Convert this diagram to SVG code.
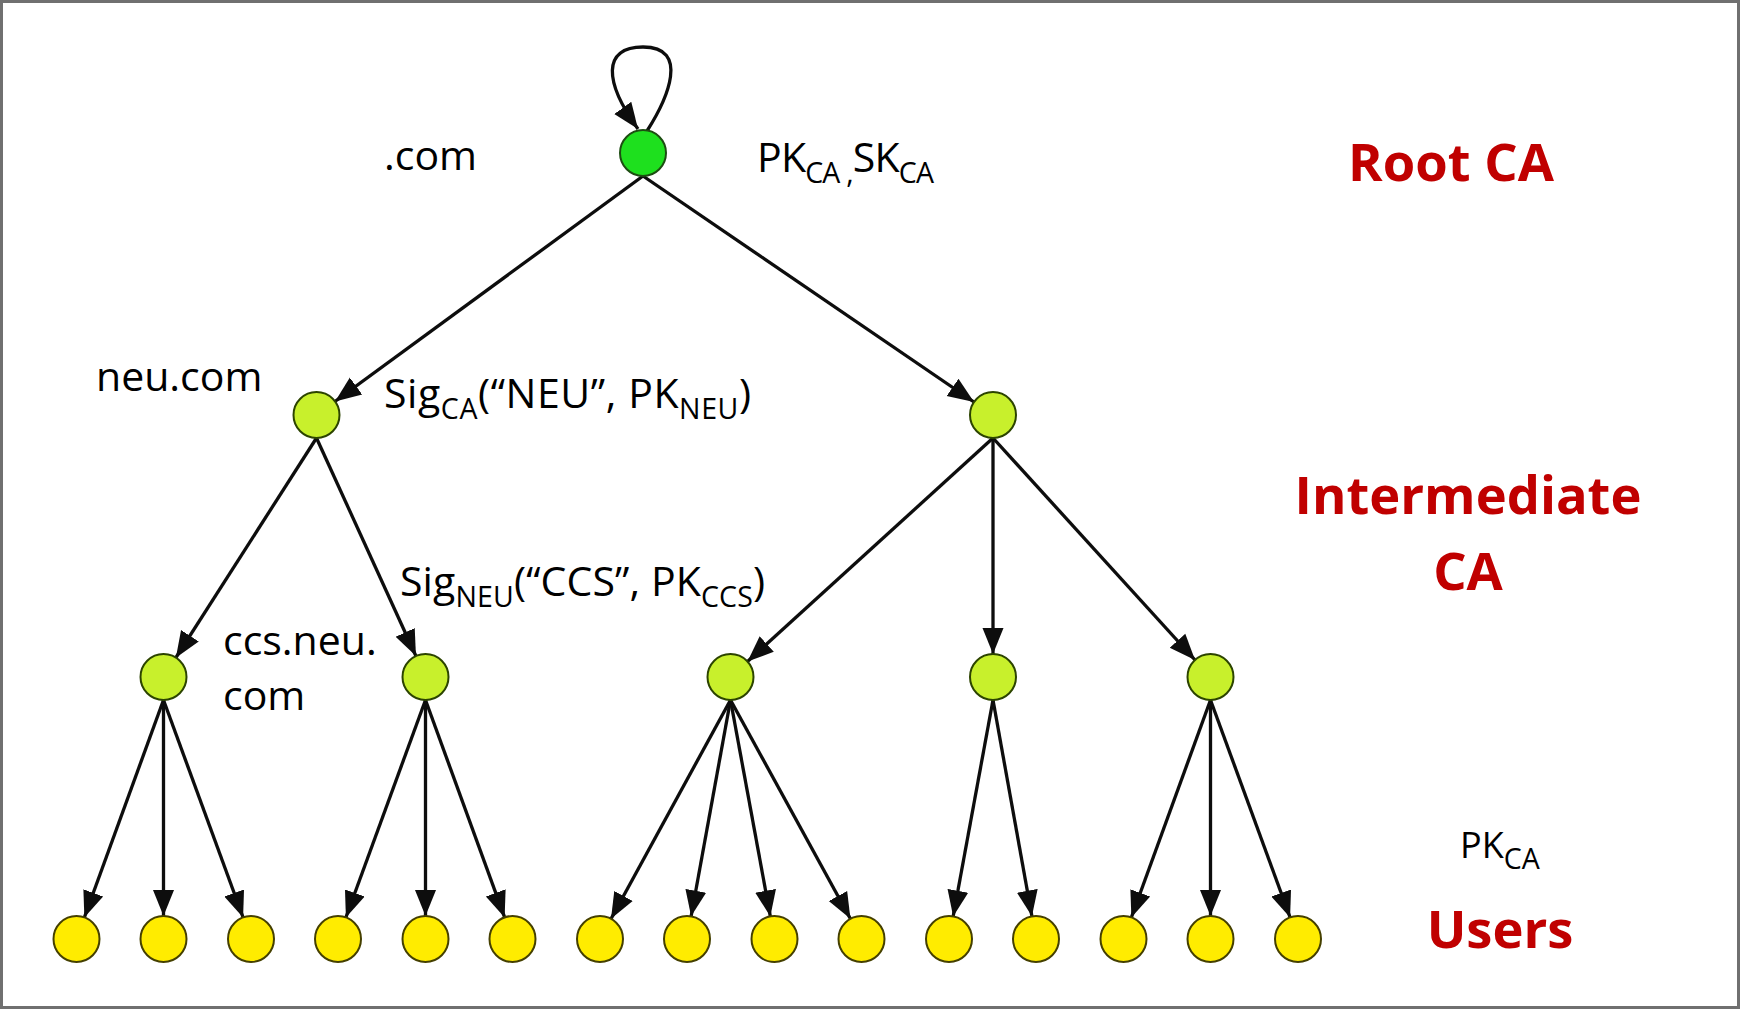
<svg xmlns="http://www.w3.org/2000/svg" width="1740" height="1009" viewBox="0 0 1740 1009">
  <style>
    .lbl { font-family: "Open Sans", "Liberation Sans", sans-serif; font-size: 41px; fill: #000; }
    .sub { font-size: 28.5px; }
    .tier { font-family: "Open Sans", "Liberation Sans", sans-serif; font-size: 52.5px; font-weight: bold; fill: #c00000; text-anchor: middle; }
    .edge { fill: none; stroke: #0d0d0d; stroke-width: 3.3; marker-end: url(#arr); }
    .root { fill: #1ee01e; stroke: #1d4d12; stroke-width: 2; }
    .ca { fill: #c8f02c; stroke: #2c4400; stroke-width: 2; }
    .user { fill: #ffec00; stroke: #454000; stroke-width: 2; }
  </style>
  <defs>
    <!-- arrowhead whose tip sits on the rim of a r=23 node when the path ends at the node centre -->
    <marker id="arr" viewBox="0 -12 28 24" markerWidth="28" markerHeight="24" refX="49" refY="0" orient="auto" markerUnits="userSpaceOnUse">
      <path d="M0,-10.5 L26,0 L0,10.5 z" fill="#0d0d0d"/>
    </marker>
    <!-- arrowhead with tip at the path end (self loop) -->
    <marker id="arrTip" viewBox="0 -12 28 24" markerWidth="28" markerHeight="24" refX="26" refY="0" orient="auto" markerUnits="userSpaceOnUse">
      <path d="M0,-10.5 L26,0 L0,10.5 z" fill="#0d0d0d"/>
    </marker>
  </defs>

  <rect x="0" y="0" width="1740" height="1009" fill="#fff"/>
  <rect x="1.5" y="1.5" width="1737" height="1006" fill="none" stroke="#707070" stroke-width="3"/>

  <!-- connectors -->
  <g id="connectors">
    <path d="M647,131 C668,98 690,47 643,47 C602,47 604,82 638,129" fill="none" stroke="#0d0d0d" stroke-width="3.3" marker-end="url(#arrTip)"/>
    <path class="edge" d="M643,176 L316.5,415"/>
    <path class="edge" d="M643,176 L993,415"/>
    <path class="edge" d="M316.5,438 L163.5,677"/>
    <path class="edge" d="M316.5,438 L425.5,677"/>
    <path class="edge" d="M993,438 L730.5,677"/>
    <path class="edge" d="M993,438 L993,677"/>
    <path class="edge" d="M993,438 L1210.5,677"/>
    <path class="edge" d="M163.5,700 L76.5,939"/>
    <path class="edge" d="M163.5,700 L163.5,939"/>
    <path class="edge" d="M163.5,700 L251,939"/>
    <path class="edge" d="M425.5,700 L338,939"/>
    <path class="edge" d="M425.5,700 L425.5,939"/>
    <path class="edge" d="M425.5,700 L512.5,939"/>
    <path class="edge" d="M730.5,700 L600,939"/>
    <path class="edge" d="M730.5,700 L687,939"/>
    <path class="edge" d="M730.5,700 L774.5,939"/>
    <path class="edge" d="M730.5,700 L861.5,939"/>
    <path class="edge" d="M993,700 L949,939"/>
    <path class="edge" d="M993,700 L1036,939"/>
    <path class="edge" d="M1210.5,700 L1123.5,939"/>
    <path class="edge" d="M1210.5,700 L1210.5,939"/>
    <path class="edge" d="M1210.5,700 L1298,939"/>
  </g>

  <!-- root CA -->
  <g id="root-ca"><circle class="root" cx="643" cy="153" r="23"/></g>

  <!-- intermediate CAs -->
  <g id="ca-neu"><circle class="ca" cx="316.5" cy="415" r="23"/></g>
  <g id="ca-b"><circle class="ca" cx="993" cy="415" r="23"/></g>
  <g id="ca-c1"><circle class="ca" cx="163.5" cy="677" r="23"/></g>
  <g id="ca-ccs"><circle class="ca" cx="425.5" cy="677" r="23"/></g>
  <g id="ca-c3"><circle class="ca" cx="730.5" cy="677" r="23"/></g>
  <g id="ca-c4"><circle class="ca" cx="993" cy="677" r="23"/></g>
  <g id="ca-c5"><circle class="ca" cx="1210.5" cy="677" r="23"/></g>

  <!-- users -->
  <g id="user-1"><circle class="user" cx="76.5" cy="939" r="23"/></g>
  <g id="user-2"><circle class="user" cx="163.5" cy="939" r="23"/></g>
  <g id="user-3"><circle class="user" cx="251" cy="939" r="23"/></g>
  <g id="user-4"><circle class="user" cx="338" cy="939" r="23"/></g>
  <g id="user-5"><circle class="user" cx="425.5" cy="939" r="23"/></g>
  <g id="user-6"><circle class="user" cx="512.5" cy="939" r="23"/></g>
  <g id="user-7"><circle class="user" cx="600" cy="939" r="23"/></g>
  <g id="user-8"><circle class="user" cx="687" cy="939" r="23"/></g>
  <g id="user-9"><circle class="user" cx="774.5" cy="939" r="23"/></g>
  <g id="user-10"><circle class="user" cx="861.5" cy="939" r="23"/></g>
  <g id="user-11"><circle class="user" cx="949" cy="939" r="23"/></g>
  <g id="user-12"><circle class="user" cx="1036" cy="939" r="23"/></g>
  <g id="user-13"><circle class="user" cx="1123.5" cy="939" r="23"/></g>
  <g id="user-14"><circle class="user" cx="1210.5" cy="939" r="23"/></g>
  <g id="user-15"><circle class="user" cx="1298" cy="939" r="23"/></g>

  <!-- labels -->
  <g id="labels">
    <text class="lbl" x="384" y="170">.com</text>
    <text class="lbl" x="757" y="172" textLength="177" lengthAdjust="spacing">PK<tspan class="sub" dy="11">CA ,</tspan><tspan dy="-11">SK</tspan><tspan class="sub" dy="11">CA</tspan></text>
    <text class="lbl" x="96" y="391">neu.com</text>
    <text class="lbl" x="384" y="408" textLength="367" lengthAdjust="spacing">Sig<tspan class="sub" dy="11">CA</tspan><tspan dy="-11">(“NEU”, PK</tspan><tspan class="sub" dy="11">NEU</tspan><tspan dy="-11">)</tspan></text>
    <text class="lbl" x="400" y="596" textLength="365" lengthAdjust="spacing">Sig<tspan class="sub" dy="11">NEU</tspan><tspan dy="-11">(“CCS”, PK</tspan><tspan class="sub" dy="11">CCS</tspan><tspan dy="-11">)</tspan></text>
    <text class="lbl" x="223" y="655">ccs.neu.</text>
    <text class="lbl" x="223" y="710">com</text>
    <text class="lbl" x="1460" y="858" style="font-size:36px">PK<tspan class="sub" dy="11">CA</tspan></text>
    <text class="tier" x="1451" y="181">Root CA</text>
    <text class="tier" x="1468" y="514">Intermediate</text>
    <text class="tier" x="1468" y="590">CA</text>
    <text class="tier" x="1500" y="948">Users</text>
  </g>
</svg>
